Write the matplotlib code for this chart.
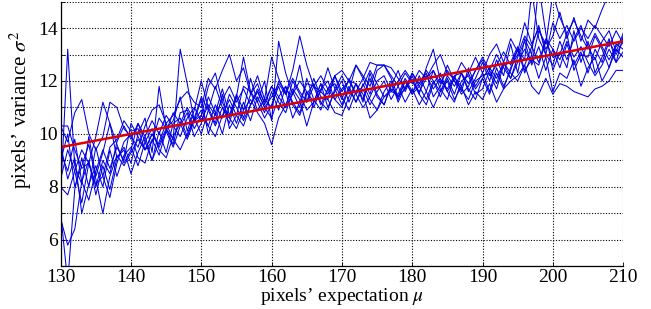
import matplotlib
matplotlib.use('Agg')
import matplotlib.pyplot as plt

plt.rcParams['font.family'] = ['Liberation Serif', 'DejaVu Serif']
plt.rcParams['mathtext.fontset'] = 'stix'

# pixel expectation values (x) shared by all curves
mu = list(range(130, 211))

# variance curves, one list per curve (81 values each)
var_1 = [10.3, 10.3, 9.4, 8.7, 8.9, 8.1, 8.4, 9.5, 9.8, 10.5,
         10.1, 10.2, 9.4, 9.7, 10.6, 10.2, 10.5, 11.4, 10.1, 10.9,
         12.0, 11.0, 10.4, 11.5, 10.2, 10.7, 11.8, 11.6, 10.9, 11.3,
         11.0, 12.0, 11.6, 10.6, 11.2, 11.9, 11.8, 11.1, 11.7, 11.9,
         11.3, 12.1, 11.5, 11.0, 11.4, 12.0, 12.2, 11.6, 11.5, 12.1,
         11.6, 11.9, 12.3, 11.4, 11.8, 12.6, 12.0, 11.7, 11.3, 12.0,
         12.2, 12.3, 11.7, 12.6, 12.7, 13.3, 12.4, 12.8, 12.6, 13.5,
         12.9, 13.0, 13.8, 12.4, 13.0, 12.9, 13.7, 13.2, 12.5, 13.4,
         13.2]
var_2 = [7.8, 13.2, 8.8, 8.1, 9.9, 8.4, 9.3, 10.4, 9.1, 9.5,
         8.9, 10.0, 10.6, 9.3, 11.8, 10.2, 9.6, 10.8, 10.9, 10.2,
         10.7, 11.8, 12.3, 11.2, 10.6, 11.4, 12.9, 11.6, 11.2, 12.0,
         10.5, 13.5, 12.3, 11.5, 12.6, 11.2, 12.1, 11.4, 11.3, 12.2,
         11.6, 12.0, 11.9, 11.2, 12.3, 11.5, 11.1, 11.8, 12.4, 11.6,
         12.2, 11.5, 12.5, 13.2, 12.0, 11.7, 12.2, 12.3, 11.6, 12.1,
         12.7, 12.0, 12.8, 12.2, 13.4, 12.3, 13.6, 13.0, 15.6, 13.8,
         12.4, 13.1, 12.5, 13.9, 12.7, 13.5, 12.3, 12.9, 13.6, 12.7,
         13.7]
var_3 = [6.8, 5.8, 6.4, 8.2, 9.0, 7.7, 8.8, 7.9, 9.1, 9.4,
         8.5, 9.3, 9.9, 9.0, 9.7, 10.4, 9.8, 13.2, 11.9, 10.5,
         11.3, 10.0, 10.8, 11.7, 10.7, 11.5, 10.9, 12.1, 11.2, 10.6,
         11.1, 11.8, 11.0, 12.0, 11.5, 10.9, 11.2, 11.9, 11.0, 11.6,
         12.0, 11.2, 11.9, 11.3, 12.1, 11.4, 11.1, 11.9, 11.3, 12.0,
         11.5, 12.2, 11.6, 12.4, 11.7, 11.3, 12.2, 11.6, 12.5, 11.8,
         12.3, 11.6, 12.5, 11.8, 12.4, 13.2, 12.3, 13.0, 12.1, 12.9,
         11.6, 12.3, 12.1, 12.8, 11.8, 12.5, 12.9, 12.0, 12.5, 13.2,
         12.9]
var_4 = [7.0, 4.4, 7.9, 9.1, 8.0, 9.5, 8.4, 7.6, 8.9, 9.7,
         10.0, 9.1, 8.9, 9.8, 9.2, 10.1, 9.5, 10.3, 10.8, 9.9,
         10.4, 11.4, 10.8, 10.0, 11.1, 10.4, 11.2, 10.5, 11.4, 10.8,
         11.6, 10.9, 11.8, 11.2, 10.8, 11.6, 11.0, 11.7, 12.0, 11.3,
         11.0, 11.7, 11.2, 11.9, 11.3, 10.9, 11.6, 12.0, 11.2, 11.8,
         12.0, 11.5, 11.1, 11.9, 12.3, 11.6, 11.2, 12.0, 12.2, 11.5,
         11.7, 12.4, 11.9, 12.7, 12.1, 12.9, 13.5, 12.6, 13.3, 12.4,
         13.2, 12.5, 13.4, 12.6, 13.1, 12.3, 13.2, 12.7, 13.5, 13.0,
         13.5]
var_5 = [10.3, 9.7, 10.8, 11.3, 10.0, 9.4, 9.9, 11.2, 11.0, 10.2,
         9.9, 9.5, 10.3, 10.9, 11.1, 10.4, 10.7, 11.3, 11.6, 11.2,
         11.0, 12.1, 11.7, 12.4, 13.0, 12.0, 12.5, 11.5, 12.2, 11.3,
         12.9, 12.1, 11.5, 12.4, 13.7, 12.6, 11.8, 11.6, 12.5, 11.7,
         12.2, 11.6, 12.6, 12.1, 12.7, 12.6, 12.6, 12.2, 11.8, 12.3,
         11.9, 12.4, 12.1, 12.6, 13.0, 12.3, 12.1, 12.7, 12.3, 12.9,
         12.3, 13.0, 13.4, 12.7, 13.6, 13.1, 14.2, 13.4, 14.0, 13.2,
         13.7, 14.6, 13.6, 14.4, 13.5, 14.3, 14.0, 14.7, 15.3, 15.6,
         15.6]
var_6 = [8.3, 9.4, 8.6, 7.4, 8.9, 9.9, 11.2, 10.4, 9.6, 8.9,
         9.4, 10.4, 9.7, 9.0, 10.1, 9.3, 10.4, 10.6, 9.9, 10.6,
         10.0, 10.9, 11.8, 11.0, 10.4, 11.4, 10.6, 11.5, 11.9, 11.1,
         11.8, 11.2, 10.8, 11.6, 11.0, 12.1, 11.3, 10.9, 11.7, 12.2,
         11.4, 10.9, 11.6, 12.1, 11.5, 12.4, 12.6, 12.1, 11.4, 11.7,
         12.3, 11.8, 11.3, 12.0, 11.4, 12.1, 11.5, 12.3, 11.7, 11.3,
         12.1, 11.5, 12.3, 11.7, 12.5, 13.0, 13.7, 13.3, 14.1, 13.0,
         12.6, 13.5, 12.8, 13.6, 14.1, 13.3, 12.8, 13.5, 13.9, 13.1,
         13.8]
var_7 = [9.6, 8.3, 9.1, 7.0, 8.1, 8.8, 8.0, 9.4, 8.4, 9.2,
         9.5, 8.8, 9.7, 10.2, 9.4, 9.1, 9.9, 10.4, 9.8, 10.5,
         10.9, 10.3, 9.9, 10.7, 11.3, 10.7, 10.3, 11.1, 11.6, 11.0,
         10.6, 11.4, 11.8, 11.1, 10.7, 11.5, 11.9, 11.2, 10.9, 11.7,
         11.1, 11.8, 11.2, 11.7, 11.1, 11.6, 12.0, 11.3, 11.8, 11.2,
         11.7, 11.1, 11.6, 11.0, 11.6, 12.0, 11.3, 11.8, 11.1, 11.6,
         11.3, 11.9, 11.2, 11.7, 12.0, 12.2, 12.6, 11.8, 11.5, 12.1,
         11.5, 11.9, 11.8, 11.6, 11.5, 11.4, 11.7, 11.8, 12.0, 12.4,
         12.4]
var_8 = [9.0, 10.0, 8.0, 8.8, 9.6, 8.3, 7.0, 8.4, 9.2, 8.8,
         9.3, 9.8, 9.4, 10.0, 9.6, 10.2, 9.8, 9.4, 10.0, 10.6,
         11.4, 10.9, 10.3, 11.0, 10.6, 10.2, 10.9, 11.3, 10.8, 10.4,
         9.6, 10.6, 11.1, 11.7, 11.3, 10.3, 11.2, 11.6, 11.3, 10.8,
         10.7, 11.4, 11.9, 11.5, 10.6, 10.9, 11.4, 11.7, 11.4, 12.0,
         11.5, 11.8, 12.2, 11.7, 12.1, 11.6, 12.1, 11.8, 12.3, 11.7,
         12.1, 12.5, 12.1, 12.7, 12.3, 12.0, 12.6, 13.3, 12.7, 13.6,
         13.2, 12.8, 13.5, 12.9, 13.3, 12.7, 12.2, 12.6, 13.2, 12.7,
         13.1]
var_9 = [8.0, 7.7, 8.6, 9.4, 8.9, 8.0, 9.0, 8.5, 9.7, 10.3,
         9.8, 10.4, 9.9, 10.5, 10.0, 10.7, 10.3, 9.9, 10.6, 11.0,
         10.5, 11.1, 10.7, 11.3, 11.8, 11.2, 11.7, 11.1, 11.6, 11.0,
         11.4, 11.9, 11.5, 12.1, 11.6, 11.2, 11.8, 12.2, 11.7, 11.3,
         11.7, 12.0, 11.5, 11.8, 12.4, 11.9, 11.4, 11.6, 12.0, 12.4,
         12.0, 11.6, 12.1, 12.4, 11.9, 12.4, 12.0, 11.5, 11.8, 12.4,
         12.8, 12.2, 12.6, 13.1, 12.6, 13.2, 12.8, 15.4, 13.6, 13.0,
         14.2, 13.6, 14.1, 13.5, 14.0, 13.6, 14.1, 13.7, 13.3, 13.9,
         13.4]
var_10 = [9.3, 8.6, 9.8, 8.2, 7.5, 8.6, 9.4, 8.7, 9.5, 9.0,
          10.4, 9.9, 9.4, 10.0, 9.5, 10.1, 10.8, 10.4, 11.0, 10.5,
          10.7, 10.3, 11.1, 10.6, 11.5, 11.0, 10.5, 11.1, 11.7, 11.2,
          11.8, 11.4, 11.0, 11.5, 12.0, 11.6, 11.2, 11.9, 11.5, 12.2,
          12.4, 12.0, 12.6, 12.2, 11.8, 12.6, 12.6, 12.5, 12.1, 11.7,
          12.3, 11.9, 12.4, 12.0, 11.6, 12.2, 11.8, 12.3, 11.9, 12.4,
          12.9, 12.4, 13.0, 12.5, 12.1, 12.7, 13.2, 12.7, 13.9, 13.4,
          15.3, 14.4, 13.8, 14.3, 13.7, 13.2, 13.8, 13.3, 12.8, 13.3,
          13.6]

curves = [var_1, var_2, var_3, var_4, var_5, var_6, var_7, var_8, var_9, var_10]

# linear fit end points
fit_mu = [130, 210]
fit_var = [9.5, 13.5]

x_ticks = [130, 140, 150, 160, 170, 180, 190, 200, 210]
y_ticks = list(range(5, 16))

fig = plt.figure(figsize=(6.51, 3.09), dpi=100)
ax = fig.add_axes([0.0932, 0.138, 0.864, 0.857])

for v in curves:
    ax.plot(mu, v, color='#0000e0', lw=0.75)
ax.plot(fit_mu, fit_var, color='#dd0000', lw=1.8)

ax.set_xlim(130, 210)
ax.set_ylim(5, 15)
ax.set_xticks(x_ticks)
ax.set_yticks(y_ticks)
ax.set_yticklabels([str(t) if t % 2 == 0 and t < 15 else '' for t in y_ticks])
ax.tick_params(direction='in', length=3, width=0.6, labelsize=14, pad=2,
               top=False, right=False)
ax.grid(True, color='black', linestyle=(0, (1, 1.5)), linewidth=0.8)

for side in ('top', 'right'):
    ax.spines[side].set_visible(False)
for side in ('left', 'bottom'):
    ax.spines[side].set_linewidth(0.9)

ax.set_xlabel('pixels\u2019 expectation $\\mu$', fontsize=14, labelpad=0)
ax.set_ylabel('pixels\u2019 variance $\\sigma^2$', fontsize=15)
ax.yaxis.set_label_coords(-0.048, 0.59)

fig.savefig('out.png', dpi=100)
